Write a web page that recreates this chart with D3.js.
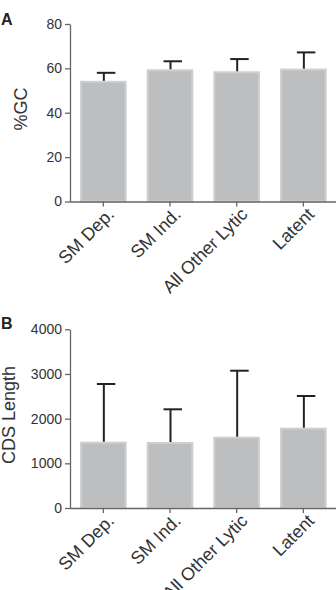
<!DOCTYPE html>
<html>
<head>
<meta charset="utf-8">
<script src="https://cdn.jsdelivr.net/npm/d3@7"></script>
<style>
  body { margin: 0; background: #fff; }
  svg text { font-family: "Liberation Sans", Arial, sans-serif; }
</style>
</head>
<body>
<div class="chart"></div>
<script>
// categories shared by both panels
var categories = ["SM Dep.", "SM Ind.", "All Other Lytic", "Latent"];

// panel A: %GC
var gcMean = [54.4, 59.6, 58.7, 59.9];
var gcErr = [58.0, 63.2, 64.2, 67.2];
var gcTicks = [0, 20, 40, 60, 80];

// panel B: CDS length
var cdsMean = [1484, 1477, 1596, 1798];
var cdsErr = [2776, 2209, 3073, 2507];
var cdsTicks = [0, 1000, 2000, 3000, 4000];

var svg = d3.select(".chart").append("svg")
    .attr("width", 336)
    .attr("height", 590);

var x = d3.scaleBand()
    .domain(categories)
    .range([70, 336.7])
    .paddingInner(0.3)
    .paddingOuter(0.15);

function drawPanel(letter, letterY, top, bottom, yMax, ticks, means, errs, ylabel, labelX, labelY){
    var y = d3.scaleLinear().domain([0, yMax]).range([bottom, top]);
    var g = svg.append("g");

    // panel letter
    g.append("text")
        .text(letter)
        .attr("x", 1)
        .attr("y", letterY)
        .attr("font-weight", "bold")
        .attr("font-size", 16)
        .attr("fill", "#222");

    // bars
    g.selectAll("rect.bar")
        .data(means)
        .enter().append("rect")
        .attr("class", "bar")
        .attr("x", function(d, i){ return x(categories[i]) + 1; })
        .attr("width", x.bandwidth() - 2)
        .attr("y", function(d){ return y(d) + 1; })
        .attr("height", function(d){ return bottom - y(d) - 1; })
        .attr("fill", "#bcbec0")
        .attr("stroke", "#cdcfd0")
        .attr("stroke-width", 2);

    // error bars (upper only)
    var eb = g.selectAll("g.err")
        .data(errs)
        .enter().append("g")
        .attr("class", "err");
    eb.append("line")
        .attr("x1", function(d, i){ return x(categories[i]) + x.bandwidth()/2 + 0.5; })
        .attr("x2", function(d, i){ return x(categories[i]) + x.bandwidth()/2 + 0.5; })
        .attr("y1", function(d, i){ return y(means[i]); })
        .attr("y2", function(d){ return y(d); })
        .attr("stroke", "#222")
        .attr("stroke-width", 2);
    eb.append("line")
        .attr("x1", function(d, i){ return x(categories[i]) + x.bandwidth()/2 - 6.5; })
        .attr("x2", function(d, i){ return x(categories[i]) + x.bandwidth()/2 + 12; })
        .attr("y1", function(d){ return y(d); })
        .attr("y2", function(d){ return y(d); })
        .attr("stroke", "#222")
        .attr("stroke-width", 2);

    // y axis
    var yAxis = g.append("g")
        .attr("transform", "translate(70,0)")
        .call(d3.axisLeft(y).tickValues(ticks).tickFormat(d3.format("d"))
            .tickSize(5).tickSizeOuter(0).tickPadding(3));
    yAxis.selectAll("text").attr("font-size", 14).attr("fill", "#333");
    yAxis.selectAll("line, path").attr("stroke", "#666").attr("stroke-width", 1.3);

    // x axis
    var xAxis = g.append("g")
        .attr("transform", "translate(0," + bottom + ")")
        .call(d3.axisBottom(x).tickSize(5).tickSizeOuter(0));
    xAxis.select("path").attr("d", "M70,0.5H336");
    xAxis.selectAll("line, path").attr("stroke", "#666").attr("stroke-width", 1.3);
    xAxis.selectAll("text")
        .attr("font-size", 18)
        .attr("fill", "#333")
        .attr("text-anchor", "end")
        .attr("dy", "0.35em")
        .attr("transform", "translate(7.5,9.5) rotate(-45)")
        .attr("x", 0)
        .attr("y", 0);

    // y label
    g.append("text")
        .text(ylabel)
        .attr("transform", "translate(" + labelX + "," + labelY + ") rotate(-90)")
        .attr("text-anchor", "middle")
        .attr("font-size", 18)
        .attr("fill", "#333");
}

drawPanel("A", 25, 24, 201.5, 80, gcTicks, gcMean, gcErr, "%GC", 27, 109);
drawPanel("B", 329, 329.3, 508, 4000, cdsTicks, cdsMean, cdsErr, "CDS Length", 15, 415);
</script>
</body>
</html>
